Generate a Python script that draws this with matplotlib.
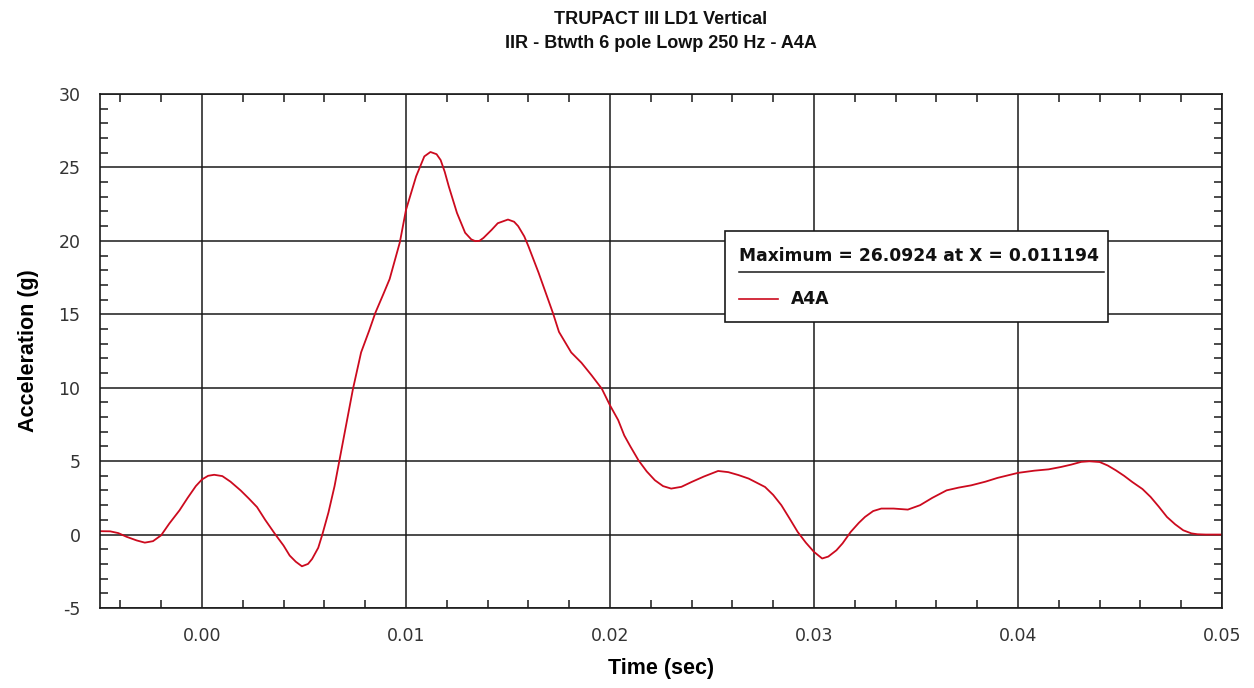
import matplotlib
matplotlib.use('Agg')
import matplotlib.pyplot as plt
from matplotlib.ticker import MultipleLocator, FormatStrFormatter
from matplotlib.lines import Line2D
from matplotlib.patches import Rectangle

plt.rcParams['axes.unicode_minus'] = False

# ---------------------------------------------------

plot_title = 'TRUPACT III LD1 Vertical\nIIR - Btwth 6 pole Lowp 250 Hz - A4A'
x_label = 'Time (sec)'
y_label = 'Acceleration (g)'
series_label = 'A4A'
max_text = 'Maximum = 26.0924 at X = 0.011194'

time_s = [
    -0.0050, -0.0045, -0.0041, -0.0037, -0.0032, -0.0028, -0.0024, -0.0020,
    -0.0016, -0.0011, -0.0007, -0.0003, 0.0000, 0.0003, 0.0006, 0.0010,
    0.0014, 0.0019, 0.0023, 0.0027, 0.0031, 0.0036, 0.0040, 0.0043,
    0.0046, 0.0049, 0.0052, 0.0054, 0.0057, 0.0059, 0.0062, 0.0065,
    0.0068, 0.0071, 0.0074, 0.0078, 0.0082, 0.0085, 0.0089,
    0.0092, 0.0097, 0.0100, 0.0105, 0.0109, 0.0112, 0.0115, 0.0117,
    0.0119, 0.0121, 0.0125, 0.0129, 0.0132, 0.0134, 0.0136, 0.0138,
    0.0142, 0.0145, 0.0150, 0.0153, 0.0155, 0.0158, 0.0160, 0.0165,
    0.0172, 0.0175, 0.0178, 0.0181, 0.0186, 0.0191, 0.0196, 0.0200,
    0.0204, 0.0207, 0.0210, 0.0214, 0.0218, 0.0222, 0.0226, 0.0230,
    0.0235, 0.0240, 0.0246, 0.0253, 0.0258, 0.0263, 0.0268, 0.0276,
    0.0280, 0.0284, 0.0288, 0.0292, 0.0296, 0.0300, 0.0304, 0.0307,
    0.0311, 0.0314, 0.0318, 0.0322, 0.0325, 0.0329, 0.0333, 0.0339,
    0.0346, 0.0352, 0.0358, 0.0365, 0.0371, 0.0377, 0.0384, 0.0390,
    0.0400, 0.0408, 0.0415, 0.0421, 0.0426, 0.0431, 0.0435, 0.0440,
    0.0444, 0.0448, 0.0452, 0.0456, 0.0461, 0.0465, 0.0469, 0.0473,
    0.0477, 0.0481, 0.0485, 0.0488, 0.0492, 0.0500,
]
accel_g = [
    0.23, 0.22, 0.10, -0.15, -0.40, -0.55, -0.45, -0.05,
    0.75, 1.65, 2.50, 3.30, 3.75, 4.00, 4.07, 3.98,
    3.60, 3.00, 2.45, 1.87, 1.00, 0.00, -0.75, -1.43,
    -1.85, -2.16, -2.00, -1.66, -0.90, 0.00, 1.50, 3.30,
    5.50, 7.70, 9.90, 12.40, 13.90, 15.10, 16.40,
    17.40, 19.90, 22.10, 24.40, 25.75, 26.05, 25.90, 25.50,
    24.70, 23.70, 21.90, 20.55, 20.10, 19.98, 20.00, 20.20,
    20.75, 21.20, 21.45, 21.30, 21.00, 20.30, 19.64, 17.83,
    15.10, 13.80, 13.10, 12.40, 11.70, 10.84, 9.93, 8.80,
    7.80, 6.75, 6.00, 5.05, 4.30, 3.70, 3.30, 3.13,
    3.25, 3.58, 3.95, 4.33, 4.25, 4.05, 3.81, 3.24,
    2.70, 2.00, 1.10, 0.18, -0.55, -1.18, -1.63, -1.50,
    -1.07, -0.60, 0.18, 0.80, 1.20, 1.60, 1.77, 1.77,
    1.70, 2.00, 2.50, 3.01, 3.20, 3.35, 3.60, 3.86,
    4.20, 4.35, 4.44, 4.60, 4.76, 4.95, 4.99, 4.94,
    4.70, 4.37, 4.00, 3.58, 3.10, 2.56, 1.90, 1.20,
    0.70, 0.29, 0.08, 0.02, 0.00, 0.00,
]

# ---------------------------------------------------

label_font = ['Liberation Sans', 'DejaVu Sans']

fig = plt.figure(figsize=(12.54, 6.88), dpi=100)
ax = fig.add_axes([0.0797, 0.1163, 0.8948, 0.7471])

ax.plot(time_s, accel_g, color='#cc0a1e', linewidth=1.3, label=series_label)

ax.set_xlim(-0.005, 0.05)
ax.set_ylim(-5, 30)
ax.xaxis.set_major_locator(MultipleLocator(0.01))
ax.xaxis.set_minor_locator(MultipleLocator(0.002))
ax.xaxis.set_major_formatter(FormatStrFormatter('%.2f'))
ax.yaxis.set_major_locator(MultipleLocator(5))
ax.yaxis.set_minor_locator(MultipleLocator(1))

ax.grid(True, which='major', color='#1a1a1a', linewidth=1.1)
ax.tick_params(which='both', direction='in', top=True, right=True,
               color='#1a1a1a', width=1.1)
ax.tick_params(which='major', length=0, pad=14, labelsize=12.5,
               labelcolor='#333333')
ax.tick_params(which='minor', length=6)
for sp in ax.spines.values():
    sp.set_color('#1a1a1a')
    sp.set_linewidth(1.2)

ax.set_xlabel(x_label, family=label_font, fontsize=15.5, fontweight='bold',
              labelpad=9)
ax.set_ylabel(y_label, family=label_font, fontsize=15.5, fontweight='bold',
              labelpad=14)
ax.set_title(plot_title, family=label_font, fontsize=13, fontweight='bold',
             pad=33, linespacing=1.55, color='#111111')

# legend box with maximum annotation
bx0, by0, bw, bh = 0.557, 0.556, 0.341, 0.177
ax.add_patch(Rectangle((bx0, by0), bw, bh, transform=ax.transAxes,
                       facecolor='white', edgecolor='#1a1a1a',
                       linewidth=1.2, zorder=5))
ax.text(bx0 + 0.0125, by0 + bh - 0.048, max_text, transform=ax.transAxes,
        fontsize=12.3, fontweight='bold', color='#111111',
        va='center', ha='left', zorder=6)
ax.add_line(Line2D([bx0 + 0.0125, bx0 + bw - 0.003],
                   [by0 + bh - 0.08, by0 + bh - 0.08],
                   transform=ax.transAxes, color='#1a1a1a', linewidth=1.1,
                   zorder=6))
ax.add_line(Line2D([bx0 + 0.0125, bx0 + 0.0475],
                   [by0 + 0.045, by0 + 0.045],
                   transform=ax.transAxes, color='#cc0a1e', linewidth=1.2,
                   zorder=6))
ax.text(bx0 + 0.059, by0 + 0.045, series_label, transform=ax.transAxes,
        fontsize=12.3, fontweight='bold', color='#111111',
        va='center', ha='left', zorder=6)

fig.savefig('out.png', dpi=100)
